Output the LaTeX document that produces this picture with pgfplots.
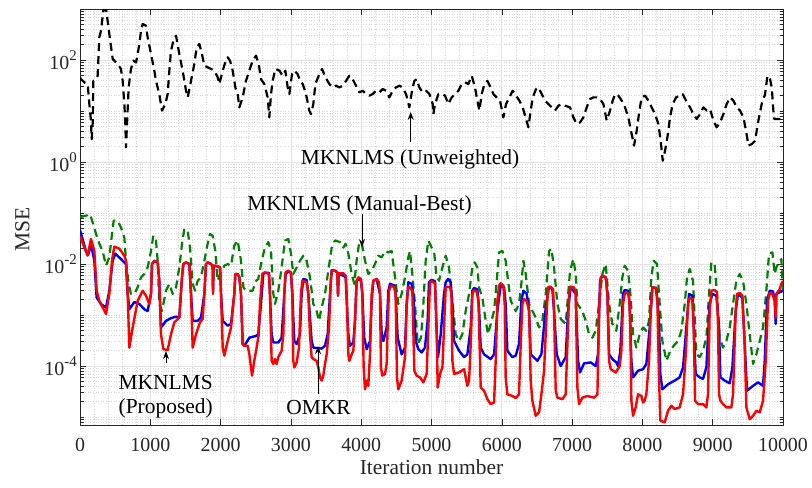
\documentclass[border=0pt]{standalone}
\usepackage{fontspec}
\setmainfont{Liberation Serif}
\usepackage{pgfplots}
\pgfplotsset{compat=1.18}
\usetikzlibrary{arrows.meta}
\definecolor{mgreen}{rgb}{0,0.5,0}
\definecolor{axgray}{gray}{0.15}
\newcommand{\annfont}{\fontsize{21.5}{26}\selectfont}
\newcommand{\expo}[1]{\raisebox{0.45em}{\fontsize{15}{18}\selectfont #1}}

\begin{document}
\begin{tikzpicture}
\path[use as bounding box] (0,0) rectangle (812bp,488bp);
\begin{axis}[
  at={(80bp,63bp)}, anchor=south west,
  scale only axis, width=703bp, height=416bp,
  xmin=0, xmax=10000, ymode=log, ymin=7e-6, ymax=1e3,
  xtick={0,1000,...,10000}, scaled x ticks=false,
  /pgf/number format/assume math mode=true,
  /pgf/number format/1000 sep={},
  ytick={1e-4,1e-2,1,1e2},
  yticklabels={10\expo{-4},10\expo{-2},10\expo{0},10\expo{2}},
  minor ytick={8e-6,9e-6,1e-5,2e-5,3e-5,4e-5,5e-5,6e-5,7e-5,8e-5,9e-5,
    2e-4,3e-4,4e-4,5e-4,6e-4,7e-4,8e-4,9e-4,1e-3,2e-3,3e-3,4e-3,5e-3,6e-3,7e-3,8e-3,9e-3,
    2e-2,3e-2,4e-2,5e-2,6e-2,7e-2,8e-2,9e-2,1e-1,2e-1,3e-1,4e-1,5e-1,6e-1,7e-1,8e-1,9e-1,
    2,3,4,5,6,7,8,9,10,20,30,40,50,60,70,80,90,200,300,400,500,600,700,800,900},
  extra x ticks={200,400,600,800,1200,1400,1600,1800,2200,2400,2600,2800,3200,3400,3600,3800,
    4200,4400,4600,4800,5200,5400,5600,5800,6200,6400,6600,6800,7200,7400,7600,7800,
    8200,8400,8600,8800,9200,9400,9600,9800},
  extra x tick labels={},
  extra x tick style={major tick length=0pt, major grid style={gray!30, dash pattern=on 0.8bp off 1.8bp, line width=0.6bp}},
  xmajorgrids, ymajorgrids, yminorgrids,
  major grid style={gray!22, line width=0.8bp},
  minor grid style={gray!30, dash pattern=on 0.8bp off 1.8bp, line width=0.6bp},
  tick pos=both, tick align=inside,
  major tick length=6bp, minor tick length=3.5bp,
  every tick/.style={axgray, line width=0.6bp},
  axis line style={axgray, line width=0.9bp},
  tick label style={font=\fontsize{20}{24}\selectfont, text=axgray, inner sep=0pt},
  xticklabel style={anchor=north, yshift=-13bp},
  yticklabel style={anchor=east, xshift=-3bp},
  xlabel={Iteration number},
  ylabel={MSE},
  every axis x label/.style={at={(axis description cs:0.5,-0.118)}, anchor=base, inner sep=0pt, font=\annfont, text=axgray},
  every axis y label/.style={at={(axis description cs:-0.082,0.469)}, rotate=90, anchor=center, inner sep=0pt, font=\annfont, text=axgray},
  line join=round,
]

% MKNLMS (Unweighted)
\addplot[black, line width=2.2bp, dash pattern=on 8bp off 5bp] coordinates {
(0,46) (14,42) (62,36.5) (109,33.8) (133,13.7) (156,6.5) (166,2.8) (180,5.6) (190,39) (228,42)
(251,49) (275,278) (299,376) (332,927) (370,1000) (393,590) (417,324) (465,105) (512,90) (536,84)
(583,67) (607,39) (631,13.7) (645,5.6) (654,1.94) (669,5.6) (692,29) (725,67) (759,97) (797,90)
(820,131) (844,206) (868,376) (891,508) (939,471) (962,278) (1010,131) (1057,62) (1081,39) (1128,21.5)
(1166,10.2) (1214,13.7) (1247,21.5) (1271,62) (1294,152) (1328,239) (1366,300) (1413,131) (1460,62) (1508,25)
(1532,18.5) (1579,39) (1626,84) (1660,177) (1698,206) (1735,131) (1769,77) (1816,72) (1864,67) (1911,62)
(1958,46) (1982,33.8) (2030,62) (2067,90) (2101,113) (2134,97) (2172,62) (2210,29) (2243,21.5) (2267,11.8)
(2314,18.5) (2361,39) (2409,62) (2456,97) (2504,122) (2542,84) (2575,42) (2622,33.8) (2670,18.5) (2693,7.5)
(2717,21.5) (2741,39) (2779,67) (2836,62) (2883,49) (2921,62) (2954,29) (2978,21.5) (3016,53) (3049,62)
(3096,53) (3130,39) (3168,33.8) (3215,21.5) (3262,10.2) (3286,8.7) (3319,13.7) (3348,33.8) (3395,49) (3443,67)
(3490,46) (3547,33.8) (3594,29) (3642,31.4) (3689,29) (3737,31.4) (3784,39) (3831,49) (3879,42) (3926,31.4)
(3974,23.2) (4021,25) (4069,21.5) (4116,20) (4163,21.5) (4211,25) (4258,23.2) (4306,27) (4353,25) (4401,18.5)
(4448,25) (4495,29) (4543,31.4) (4590,29) (4638,21.5) (4685,11.8) (4723,25) (4756,39) (4790,42) (4827,29)
(4875,23.2) (4922,25) (4970,21.5) (5017,13.7) (5026,8.7) (5050,13.7) (5098,21.5) (5145,22) (5192,20) (5240,13.7)
(5287,18.5) (5335,21.5) (5382,25) (5430,33.8) (5477,36.5) (5524,33.8) (5572,49) (5619,29) (5652,16) (5681,10.2)
(5714,21.5) (5747,31.4) (5795,39) (5842,29) (5880,21.5) (5927,18.5) (5975,16) (6022,7.5) (6060,13.7) (6108,18.5)
(6155,25) (6202,20) (6250,16) (6297,11.8) (6345,7.0) (6378,4.8) (6411,10.2) (6440,18.5) (6487,27) (6520,29)
(6568,21.5) (6615,16) (6662,13.7) (6710,11.8) (6757,10.2) (6805,12.7) (6852,13.7) (6899,12.7) (6971,11.8) (7018,7.5)
(7066,5.6) (7113,6.0) (7160,7.5) (7208,11.8) (7255,17.2) (7303,18.5) (7350,18.5) (7397,17.2) (7445,13.7) (7492,6.5)
(7540,10.2) (7578,16) (7611,21.5) (7658,20) (7706,16) (7753,11.8) (7800,7.5) (7848,3.5) (7881,2.1) (7919,4.1)
(7957,10.2) (7990,18.5) (8038,20) (8085,16) (8132,11.8) (8180,8.7) (8227,5.6) (8260,2.6) (8289,1.06) (8322,1.67)
(8355,3.0) (8393,7.5) (8431,13.7) (8479,18.5) (8526,20) (8573,21.5) (8621,16) (8678,11.8) (8725,8.7) (8773,7.0)
(8820,8.7) (8867,11.8) (8915,10.2) (8962,10.9) (9010,6.5) (9057,4.8) (9105,6.0) (9152,8.7) (9199,13.7) (9247,18.5)
(9294,16) (9342,11.8) (9389,10.2) (9437,7.5) (9474,4.1) (9508,2.1) (9555,2.25) (9602,2.6) (9650,6.5) (9697,13.7)
(9745,21.5) (9778,49) (9816,42) (9840,29) (9863,10.2) (9873,7.0) (9911,7.0) (9958,7.0) (10000,7.0)
};

% MKNLMS (Manual-Best)
\addplot[mgreen, line width=2.2bp, dash pattern=on 8bp off 5bp] coordinates {
(0,8.3e-2) (85,8.9e-2) (142,9.5e-2) (180,6.6e-2) (228,3.9e-2) (275,2.5e-2) (322,1.8e-2) (370,9.3e-3) (417,1.35e-2) (455,3.9e-2)
(479,7.1e-2) (536,7.1e-2) (583,5.2e-2) (631,3.3e-2) (654,1.16e-2) (692,4.1e-3) (725,2.6e-3) (773,2.6e-3) (820,3.5e-3) (868,5.5e-3)
(915,6.4e-3) (962,8.6e-3) (1010,1.8e-2) (1043,3.6e-2) (1081,2.9e-2) (1105,1.16e-2) (1128,1.65e-3) (1166,1.2e-3) (1223,3.0e-3) (1271,4.1e-3)
(1318,2.6e-3) (1366,3.5e-3) (1413,8.6e-3) (1451,2.5e-2) (1484,4.9e-2) (1532,4.5e-2) (1565,2.1e-2) (1603,4.1e-3) (1636,3.0e-3) (1674,4.7e-3)
(1721,5.5e-3) (1769,1.16e-2) (1816,2.5e-2) (1849,3.9e-2) (1887,3.6e-2) (1925,1.8e-2) (1958,4.7e-3) (2006,6.9e-3) (2053,9.3e-3) (2101,1.0e-2)
(2148,9.3e-3) (2195,2.3e-2) (2243,2.9e-2) (2290,1.16e-2) (2324,3.5e-3) (2361,3.0e-3) (2456,3.0e-3) (2504,4.7e-3) (2536,5.1e-3) (2584,1.16e-2)
(2631,2.1e-2) (2679,2.7e-2) (2717,1.8e-2) (2750,2.6e-3) (2774,1.65e-3) (2821,3.0e-3) (2868,8.6e-3) (2916,2.9e-2) (2963,3.1e-2) (3001,1.6e-2)
(3034,6.4e-3) (3082,8.6e-3) (3129,1.16e-2) (3177,1.46e-2) (3224,1.16e-2) (3271,5.5e-3) (3319,1.65e-3) (3366,1.2e-3) (3399,7.7e-4) (3437,1.4e-3)
(3485,2.6e-3) (3532,7.4e-3) (3580,2.1e-2) (3627,2.9e-2) (3698,2.7e-2) (3746,2.1e-2) (3779,2.5e-2) (3817,1.6e-2) (3864,6.4e-3) (3902,4.1e-3)
(3935,1.16e-2) (3969,2.5e-2) (4006,2.7e-2) (4054,1.16e-2) (4101,6.4e-3) (4149,7.4e-3) (4196,1.0e-2) (4243,1.46e-2) (4291,1.35e-2) (4338,1.8e-2)
(4386,1.7e-2) (4433,1.8e-2) (4481,5.5e-3) (4528,1.65e-3) (4575,2.6e-3) (4623,5.5e-3) (4670,1.35e-2) (4694,1.8e-2) (4727,6.4e-3) (4765,1.65e-3)
(4803,2.7e-4) (4851,3.6e-4) (4884,1.65e-3) (4917,1.16e-2) (4955,2.9e-2) (5002,2.1e-2) (5040,1.6e-2) (5070,6.0e-3) (5107,4.7e-3) (5155,8.6e-3)
(5202,1.46e-2) (5249,8.6e-3) (5297,1.9e-3) (5344,4.2e-4) (5392,3.1e-4) (5439,4.2e-4) (5486,1.2e-3) (5534,2.6e-3) (5581,8.6e-3) (5615,1.08e-2)
(5652,8.6e-3) (5676,3.5e-3) (5724,2.2e-3) (5771,7.7e-4) (5804,4.2e-4) (5842,6.7e-4) (5890,1.2e-3) (5928,4.7e-3) (5961,1.7e-2) (6008,1.8e-2)
(6055,1.16e-2) (6089,4.7e-3) (6127,1.9e-3) (6198,1.2e-3) (6245,1.65e-3) (6278,4.1e-3) (6307,1.16e-2) (6340,6.4e-3) (6388,1.65e-3) (6435,1.2e-3)
(6482,9.0e-4) (6530,5.7e-4) (6577,7.7e-4) (6625,2.6e-3) (6672,1.8e-2) (6705,2.0e-2) (6743,8.6e-3) (6791,1.65e-3) (6838,8.4e-4) (6909,6.7e-4)
(6971,7.4e-3) (7018,1.25e-2) (7051,6.4e-3) (7075,1.65e-3) (7146,1.2e-3) (7194,7.7e-4) (7241,4.2e-4) (7288,3.6e-4) (7336,4.9e-4) (7383,1.65e-3)
(7431,6.4e-3) (7478,1.0e-2) (7526,1.65e-3) (7573,6.7e-4) (7629,4.9e-4) (7677,1.65e-3) (7715,5.5e-3) (7748,9.3e-3) (7795,7.4e-3) (7829,2.6e-3)
(7867,4.2e-4) (7914,2.3e-4) (7961,4.2e-4) (8009,5.7e-4) (8056,4.9e-4) (8094,7.7e-4) (8127,5.5e-3) (8161,1.16e-2) (8208,1.0e-2) (8236,2.6e-3)
(8284,3.1e-4) (8341,1.27e-4) (8398,2.0e-4) (8445,2.5e-4) (8507,3.1e-4) (8554,4.9e-4) (8602,1.65e-3) (8635,5.5e-3) (8673,8.0e-3) (8720,4.7e-3)
(8768,1.7e-4) (8815,1.5e-4) (8862,2.0e-4) (8910,3.6e-4) (8948,2.6e-3) (8981,1.08e-2) (9028,1.0e-2) (9061,2.6e-3) (9099,3.6e-4) (9147,2.3e-4)
(9194,3.1e-4) (9242,5.7e-4) (9289,1.65e-3) (9336,4.7e-3) (9384,6.4e-3) (9431,4.7e-3) (9479,1.65e-3) (9526,4.2e-4) (9574,1.1e-4) (9621,1.7e-4)
(9669,3.1e-4) (9716,5.7e-4) (9763,3.0e-3) (9801,1.6e-2) (9849,1.7e-2) (9882,6.4e-3) (9905,8.6e-3) (9943,1.08e-2) (9977,1.25e-2) (10000,2.6e-3)
};

% OMKR
\addplot[blue, line width=2.4bp] coordinates {
(0,4.6e-2) (85,1.8e-2) (123,1.6e-2) (156,2.5e-2) (204,1.16e-2) (237,2.2e-3) (299,1.65e-3) (370,1.4e-3) (417,3.0e-3) (465,1.16e-2)
(503,1.6e-2) (583,1.25e-2) (654,1.0e-2) (678,2.6e-3) (702,1.3e-3) (773,1.8e-3) (844,1.65e-3) (915,1.3e-3) (962,1.2e-3) (1010,2.6e-3)
(1024,1.0e-2) (1057,1.16e-2) (1105,1.08e-2) (1128,4.7e-3) (1152,5.7e-4) (1223,7.7e-4) (1294,8.7e-4) (1366,9.3e-4) (1413,9.0e-4) (1451,5.5e-3)
(1470,1.0e-2) (1508,1.08e-2) (1555,1.0e-2) (1579,2.6e-3) (1603,7.7e-4) (1674,7.7e-4) (1721,9.0e-4) (1769,2.6e-3) (1792,1.0e-2) (1816,1.08e-2)
(1864,1.0e-2) (1887,9.3e-3) (1892,3.0e-3) (1901,9.3e-3) (1958,9.0e-3) (1992,8.6e-3) (2006,2.6e-3) (2030,7.7e-4) (2101,6.2e-4) (2148,6.7e-4)
(2195,2.6e-3) (2210,6.4e-3) (2243,6.4e-3) (2267,5.5e-3) (2290,2.6e-3) (2314,2.7e-4) (2338,2.5e-4) (2409,3.6e-4) (2504,3.9e-4) (2536,4.2e-4)
(2574,1.65e-3) (2608,6.4e-3) (2631,6.7e-3) (2688,6.7e-3) (2702,2.6e-3) (2726,4.2e-4) (2750,2.9e-4) (2821,2.9e-4) (2868,3.6e-4) (2906,2.6e-3)
(2925,6.4e-3) (2963,7.2e-3) (3001,6.7e-3) (3020,2.6e-3) (3049,3.1e-4) (3082,2.7e-4) (3129,4.2e-4) (3153,2.6e-3) (3177,5.1e-3) (3224,4.9e-3)
(3248,2.6e-3) (3295,3.1e-4) (3319,2.3e-4) (3437,2.2e-4) (3485,2.5e-4) (3523,4.2e-4) (3556,2.6e-3) (3580,7.6e-3) (3627,7.4e-3) (3660,6.9e-3)
(3670,2.4e-3) (3679,6.4e-3) (3746,5.9e-3) (3779,5.5e-3) (3817,4.2e-4) (3840,2.5e-4) (3888,2.9e-4) (3912,7.7e-4) (3935,4.7e-3) (3959,5.1e-3)
(3997,4.7e-3) (4016,2.6e-3) (4044,3.6e-4) (4078,2.15e-4) (4125,3.1e-4) (4149,1.9e-3) (4172,4.7e-3) (4220,5.1e-3) (4267,2.6e-3) (4291,4.2e-4)
(4315,3.1e-4) (4362,5.7e-4) (4386,3.0e-3) (4410,4.1e-3) (4471,3.8e-3) (4490,2.6e-3) (4519,3.6e-4) (4575,1.7e-4) (4623,2.3e-4) (4647,1.65e-3)
(4670,4.4e-3) (4718,4.1e-3) (4741,2.6e-3) (4775,3.1e-4) (4813,2.15e-4) (4860,1.85e-4) (4907,2.3e-4) (4945,7.7e-4) (4964,4.4e-3) (5002,4.9e-3)
(5050,4.6e-3) (5074,4.2e-4) (5093,1.5e-4) (5131,4.2e-4) (5178,2.6e-3) (5202,4.4e-3) (5235,5.1e-3) (5273,4.4e-3) (5297,1.65e-3) (5321,3.1e-4)
(5392,2.0e-4) (5463,1.5e-4) (5510,1.7e-4) (5558,5.7e-4) (5581,3.0e-3) (5605,3.4e-3) (5652,3.2e-3) (5676,1.4e-3) (5700,2.3e-4) (5747,1.7e-4)
(5842,1.37e-4) (5890,1.7e-4) (5937,1.2e-3) (5984,3.8e-3) (6032,3.5e-3) (6055,1.65e-3) (6079,2.0e-4) (6150,1.5e-4) (6198,1.6e-4) (6245,2.7e-4)
(6278,1.9e-3) (6307,3.0e-3) (6354,2.6e-3) (6388,1.2e-3) (6411,1.7e-4) (6506,1.27e-4) (6563,1.7e-4) (6625,1.4e-3) (6672,3.6e-3) (6719,3.2e-3)
(6743,1.2e-3) (6781,1.7e-4) (6838,1.0e-4) (6909,1.5e-4) (6942,1.2e-3) (6980,3.6e-3) (7051,2.6e-3) (7085,1.27e-4) (7113,7.5e-5) (7170,1.13e-4)
(7265,1.18e-4) (7336,1.0e-4) (7369,1.7e-4) (7397,4.7e-3) (7431,5.9e-3) (7478,5.5e-3) (7502,2.6e-3) (7526,1.7e-4) (7573,1.37e-4) (7629,1.18e-4)
(7653,1.0e-4) (7686,2.0e-4) (7724,2.6e-3) (7748,3.1e-3) (7795,3.0e-3) (7819,1.65e-3) (7843,1.27e-4) (7867,6.0e-5) (7938,8.1e-5) (8009,8.7e-5)
(8056,1.1e-4) (8104,5.7e-4) (8142,3.5e-3) (8198,3.4e-3) (8236,7.7e-4) (8255,7.0e-5) (8284,3.5e-5) (8364,4.4e-5) (8459,5.2e-5) (8530,6.0e-5)
(8578,9.4e-5) (8625,5.7e-4) (8663,2.6e-3) (8711,2.4e-3) (8730,5.7e-4) (8758,7.0e-5) (8815,6.0e-5) (8862,5.6e-5) (8910,9.4e-5) (8957,1.65e-3)
(8995,2.6e-3) (9052,2.4e-3) (9090,5.7e-4) (9109,6.0e-5) (9171,5.2e-5) (9242,4.6e-5) (9280,9.4e-5) (9327,1.2e-3) (9360,2.6e-3) (9422,2.2e-3)
(9455,2.7e-4) (9488,3.3e-5) (9574,4.1e-5) (9645,4.8e-5) (9716,4.1e-5) (9740,1.27e-4) (9773,1.9e-3) (9811,3.0e-3) (9858,2.9e-3) (9882,1.9e-3)
(9896,6.7e-4) (9905,2.6e-3) (9953,2.8e-3) (10000,3.0e-3)
};

% MKNLMS (Proposed)
\addplot[red, line width=2.4bp] coordinates {
(0,3.5e-2) (109,1.46e-2) (156,3.1e-2) (204,1.8e-2) (237,3.0e-3) (275,1.9e-3) (370,1.05e-3) (417,2.6e-3) (455,1.16e-2) (488,2.2e-2)
(560,2.0e-2) (631,1.46e-2) (654,1.16e-2) (678,2.6e-3) (702,2.3e-4) (749,5.7e-4) (820,1.9e-3) (891,3.0e-3) (939,2.4e-3) (986,1.65e-3)
(1010,2.6e-3) (1024,1.0e-2) (1057,1.16e-2) (1105,1.08e-2) (1128,4.7e-3) (1152,4.2e-4) (1185,2.15e-4) (1247,2.06e-4) (1294,4.2e-4) (1342,7.2e-4)
(1413,9.0e-4) (1451,5.5e-3) (1470,1.0e-2) (1508,1.08e-2) (1555,1.0e-2) (1579,2.6e-3) (1603,2.3e-4) (1650,4.2e-4) (1707,7.2e-4) (1745,8.4e-4)
(1769,2.6e-3) (1792,1.0e-2) (1816,1.08e-2) (1864,1.0e-2) (1887,9.3e-3) (1892,2.6e-3) (1901,9.3e-3) (1958,9.0e-3) (1992,8.6e-3) (2006,2.6e-3)
(2030,2.3e-4) (2053,1.6e-4) (2101,3.1e-4) (2148,5.7e-4) (2195,2.6e-3) (2210,6.4e-3) (2243,6.4e-3) (2267,5.5e-3) (2290,2.6e-3) (2314,2.7e-4)
(2338,2.5e-4) (2385,2.5e-4) (2409,1.7e-4) (2447,6.5e-5) (2480,1.3e-4) (2510,2.2e-4) (2540,4.0e-4) (2560,1.65e-3) (2593,6.4e-3) (2631,6.9e-3)
(2688,6.4e-3) (2702,2.6e-3) (2726,1.27e-4) (2750,1.1e-4) (2774,1.37e-4) (2797,1.1e-4) (2821,1.5e-4) (2868,2.0e-4) (2892,4.2e-4) (2906,2.6e-3)
(2925,6.9e-3) (2963,7.4e-3) (3001,6.9e-3) (3020,2.6e-3) (3034,1.27e-4) (3049,9.4e-5) (3082,1.18e-4) (3115,2.3e-4) (3143,2.6e-3) (3162,4.7e-3)
(3224,4.4e-3) (3248,2.6e-3) (3271,4.2e-4) (3295,1.5e-4) (3319,1.37e-4) (3366,1.27e-4) (3390,9.4e-5) (3414,6.0e-5) (3437,5.2e-5) (3461,6.5e-5)
(3485,1.1e-4) (3509,1.7e-4) (3542,5.7e-4) (3570,5.5e-3) (3589,7.6e-3) (3627,7.4e-3) (3660,6.9e-3) (3670,2.4e-3) (3679,6.6e-3) (3746,6.6e-3)
(3779,5.9e-3) (3793,2.6e-3) (3817,1.7e-4) (3831,1.27e-4) (3864,1.7e-4) (3888,2.0e-4) (3912,7.7e-4) (3935,4.7e-3) (3959,5.5e-3) (3997,5.1e-3)
(4016,2.6e-3) (4035,9.4e-5) (4054,3.5e-5) (4078,5.2e-5) (4101,4.1e-5) (4125,1.7e-4) (4149,2.6e-3) (4172,4.7e-3) (4220,5.1e-3) (4253,4.4e-3)
(4267,2.6e-3) (4281,9.4e-5) (4300,6.5e-5) (4338,7.0e-5) (4362,1.1e-4) (4376,5.7e-4) (4395,3.0e-3) (4424,3.8e-3) (4471,3.5e-3) (4490,2.6e-3)
(4509,6.0e-5) (4528,3.5e-5) (4575,5.2e-5) (4623,1.5e-4) (4647,1.65e-3) (4670,3.5e-3) (4694,3.5e-3) (4727,3.0e-3) (4756,8.1e-5) (4789,6.5e-5)
(4836,6.0e-5) (4884,4.8e-5) (4931,7.0e-5) (4955,5.7e-4) (4979,4.4e-3) (5002,4.6e-3) (5050,4.2e-3) (5073,5.7e-4) (5088,3.8e-5) (5121,7.0e-5)
(5155,9.4e-5) (5178,5.7e-4) (5202,3.5e-3) (5226,3.6e-3) (5264,3.5e-3) (5283,2.6e-3) (5297,1.27e-4) (5321,7.0e-5) (5392,7.5e-5) (5463,8.7e-5)
(5486,6.0e-5) (5510,4.1e-5) (5534,5.2e-5) (5558,2.7e-4) (5581,2.6e-3) (5596,3.0e-3) (5643,2.9e-3) (5667,1.9e-3) (5690,1.27e-4) (5700,3.8e-5)
(5747,3.3e-5) (5795,2.25e-5) (5842,1.8e-5) (5890,1.94e-5) (5913,1.27e-4) (5937,1.9e-3) (5961,3.8e-3) (5984,4.2e-3) (6022,3.8e-3) (6041,1.65e-3)
(6055,6.0e-5) (6079,2.8e-5) (6150,2.6e-5) (6198,2.36e-5) (6245,2.8e-5) (6269,2.7e-4) (6293,1.65e-3) (6316,2.06e-3) (6354,1.9e-3) (6388,1.2e-3)
(6411,5.2e-5) (6435,2.1e-5) (6482,1.06e-5) (6530,1.24e-5) (6563,2.8e-5) (6601,8.1e-5) (6639,1.2e-3) (6658,3.5e-3) (6696,3.6e-3) (6729,3.2e-3)
(6743,1.2e-3) (6767,3.3e-5) (6791,2.4e-5) (6862,2.25e-5) (6909,2.8e-5) (6933,2.7e-4) (6957,2.6e-3) (6980,3.6e-3) (7028,3.5e-3) (7051,2.6e-3)
(7075,3.8e-5) (7099,1.8e-5) (7146,2.4e-5) (7217,2.6e-5) (7312,2.4e-5) (7360,2.8e-5) (7383,1.2e-3) (7407,5.5e-3) (7431,5.9e-3) (7478,5.5e-3)
(7502,2.6e-3) (7526,1.27e-4) (7549,8.7e-5) (7620,7.5e-5) (7677,1.0e-4) (7701,2.0e-4) (7724,1.65e-3) (7748,2.6e-3) (7772,2.8e-3) (7810,2.6e-3)
(7829,5.7e-4) (7843,2.1e-5) (7867,1.06e-5) (7904,1.55e-5) (7938,2.8e-5) (7985,2.6e-5) (8009,1.94e-5) (8032,2.1e-5) (8056,2.8e-5) (8094,1.27e-4)
(8118,1.2e-3) (8142,3.5e-3) (8189,3.4e-3) (8213,1.9e-3) (8236,6.0e-5) (8255,8.5e-6) (8317,7.9e-6) (8364,1.33e-5) (8412,1.67e-5) (8459,1.44e-5)
(8530,1.55e-5) (8578,2.8e-5) (8616,1.7e-4) (8649,1.65e-3) (8673,2.2e-3) (8711,2.06e-3) (8730,5.7e-4) (8749,2.1e-5) (8791,1.8e-5) (8862,1.8e-5)
(8910,1.55e-5) (8933,2.8e-5) (8957,1.2e-3) (8981,3.0e-3) (9028,3.1e-3) (9061,2.8e-3) (9076,5.7e-4) (9090,2.8e-5) (9109,2.1e-5) (9147,1.8e-5)
(9194,1.55e-5) (9265,1.55e-5) (9289,2.8e-5) (9327,1.2e-3) (9346,2.6e-3) (9384,2.7e-3) (9422,2.4e-3) (9455,2.7e-4) (9479,1.55e-5) (9526,9.1e-6)
(9574,1.06e-5) (9621,1.33e-5) (9669,1.24e-5) (9716,2.1e-5) (9754,1.27e-4) (9787,1.9e-3) (9811,2.7e-3) (9849,2.6e-3) (9882,1.9e-3) (9896,9.0e-4)
(9905,2.6e-3) (9953,3.2e-3) (9977,4.1e-3) (10000,4.7e-3)
};

% annotations
\draw[black, line width=0.9bp, -{Stealth[length=8bp,width=6bp]}] (axis cs:4704,2.47) -- (axis cs:4704,9.6);
\node[font=\annfont, anchor=base, inner sep=0pt] at (axis cs:4694,0.89) {MKNLMS (Unweighted)};
\draw[black, line width=0.9bp, -{Stealth[length=8bp,width=6bp]}] (axis cs:4011,9.5e-2) -- (axis cs:4011,2.15e-2);
\node[font=\annfont, anchor=base, inner sep=0pt] at (axis cs:3976,0.111) {MKNLMS (Manual-Best)};
\draw[black, line width=0.9bp, -{Stealth[length=8bp,width=6bp]}] (axis cs:1223,1.15e-4) -- (axis cs:1223,1.97e-4);
\node[font=\annfont, anchor=base, inner sep=0pt] at (axis cs:1219,3.55e-5) {MKNLMS};
\node[font=\annfont, anchor=base, inner sep=0pt] at (axis cs:1219,1.2e-5) {(Proposed)};
\draw[black, line width=0.9bp, -{Stealth[length=8bp,width=6bp]}] (axis cs:3386,2.8e-5) -- (axis cs:3386,2.47e-4);
\node[font=\annfont, anchor=base, inner sep=0pt] at (axis cs:3393,1.15e-5) {OMKR};
\end{axis}
\end{tikzpicture}
\end{document}
